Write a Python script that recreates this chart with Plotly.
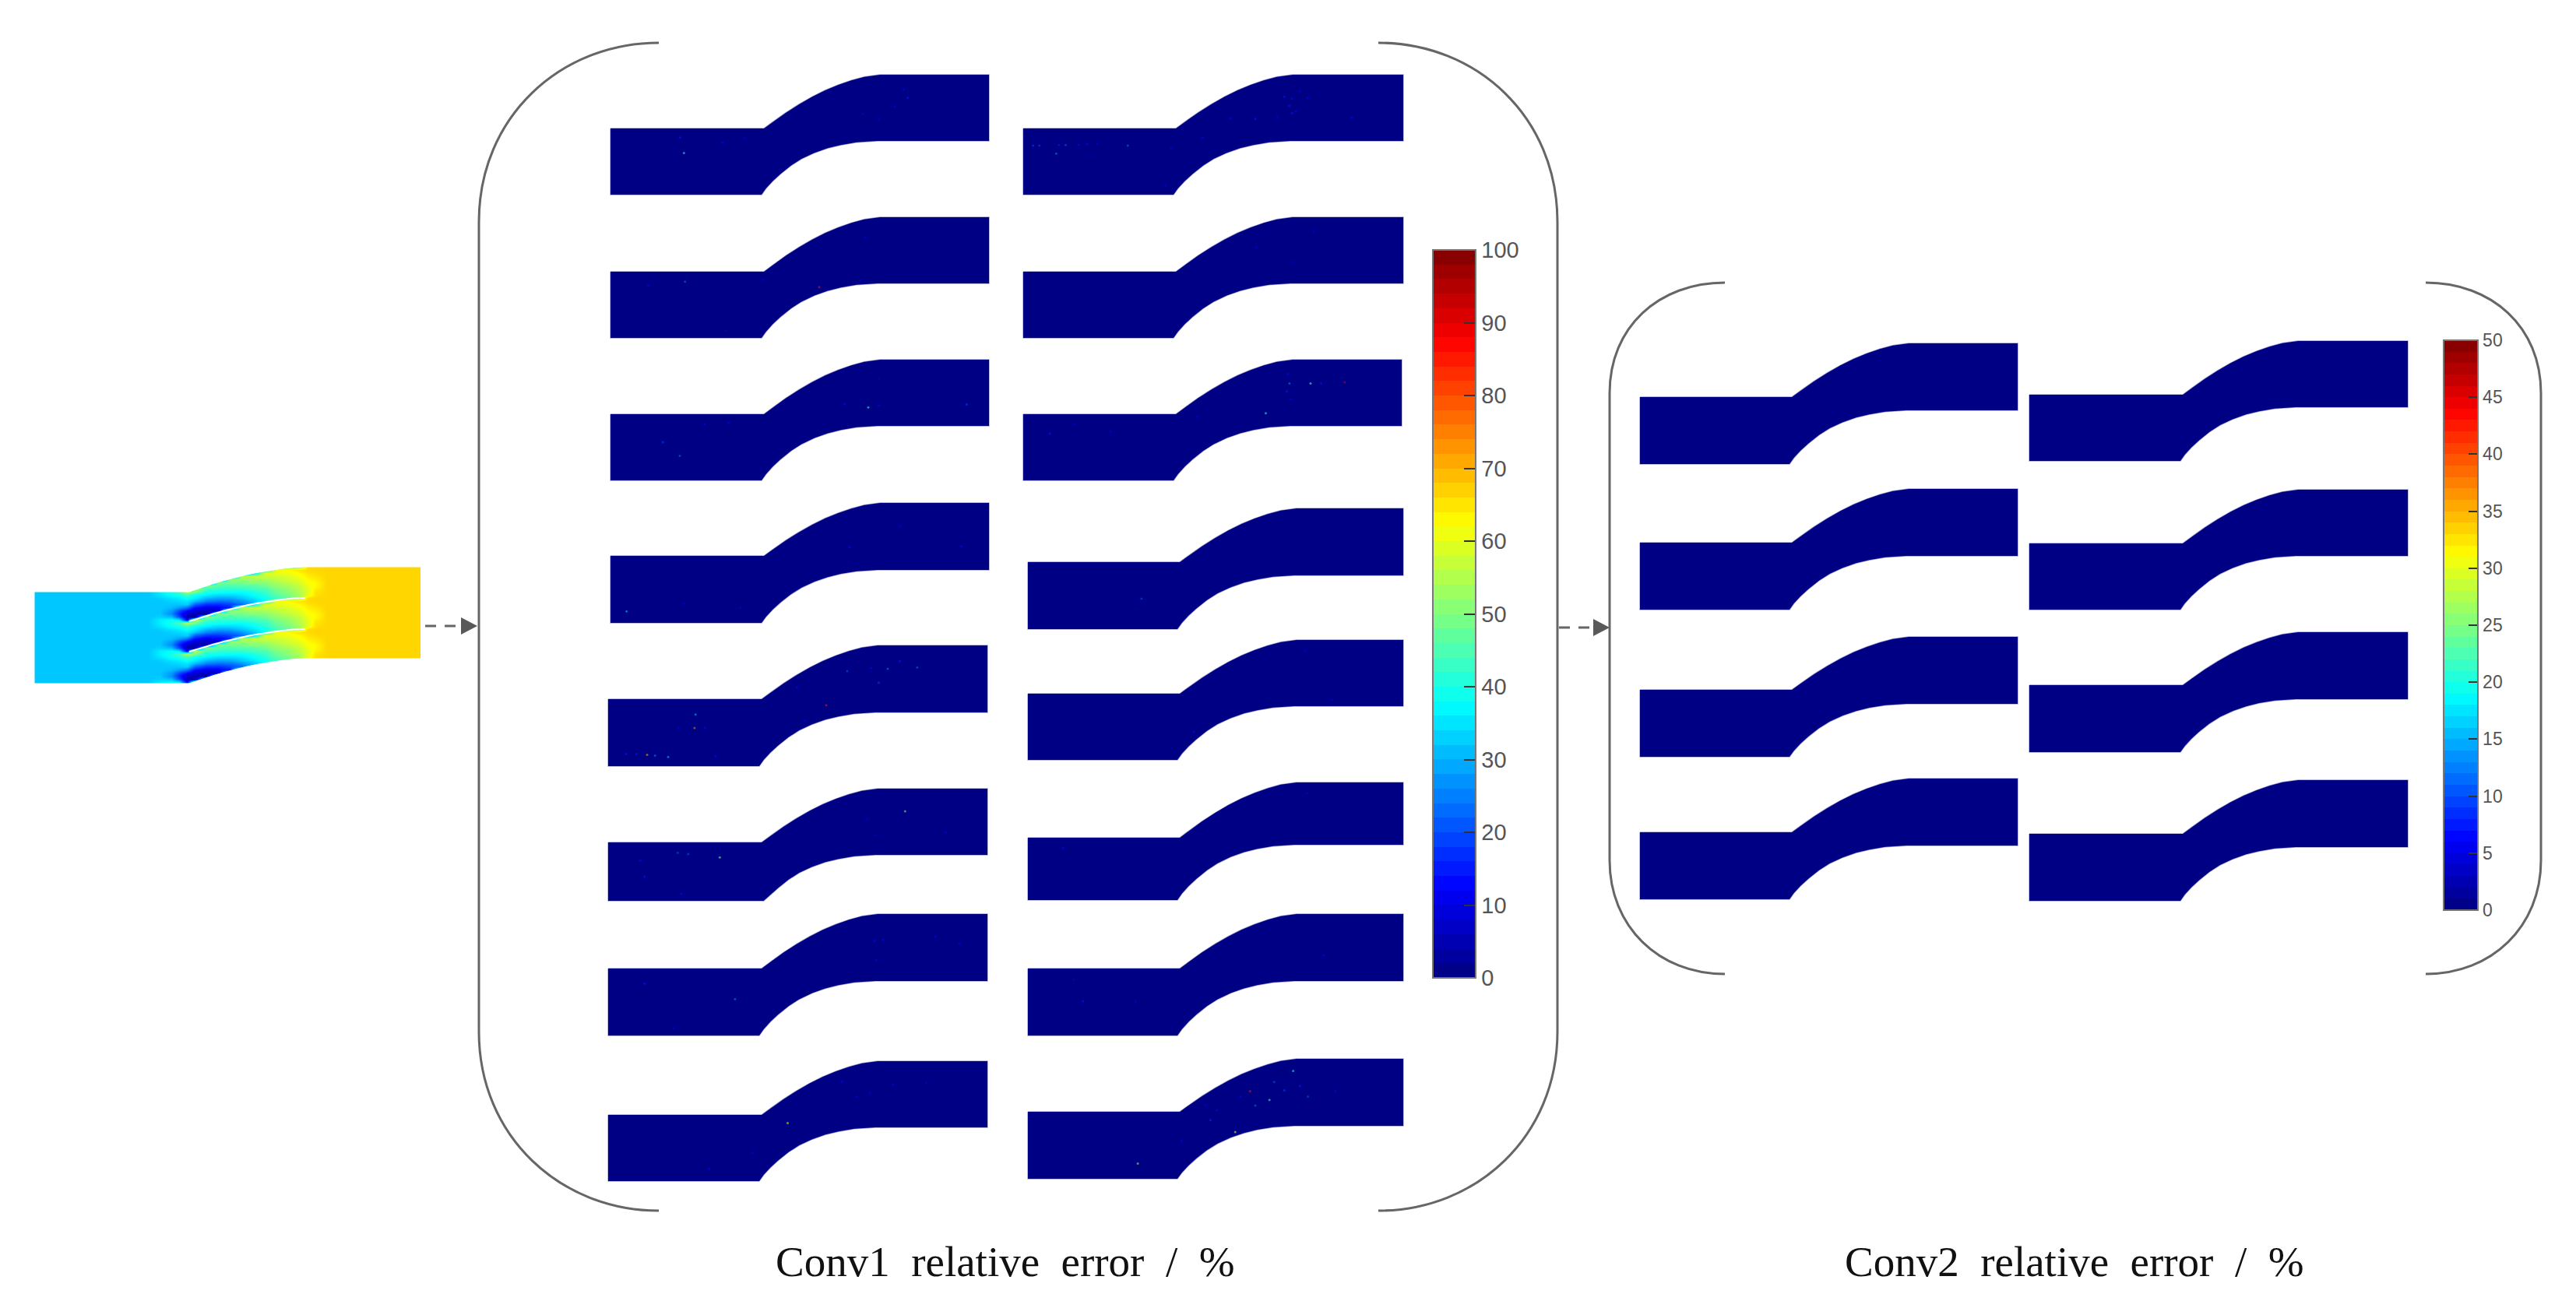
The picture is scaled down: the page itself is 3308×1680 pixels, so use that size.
import numpy as np
import plotly.graph_objects as go

# channel outline, fraction along the bend -> fraction of the rise
UPPER_T = [0, .079, .19, .303, .416, .528, .64, .753, .865, 1]
UPPER_F = [0, .125, .295, .45, .59, .71, .81, .895, .96, 1]
LOWER_T = [0, .038, .095, .163, .253, .344, .457, .57, .683, .819, 1]
LOWER_F = [0, .115, .25, .385, .54, .665, .78, .865, .925, .975, 1]

# Conv1 panels, left column then right column
C1_LEFT = [784, 784, 784, 784, 781, 781, 781, 781, 1314, 1314, 1314, 1320, 1320, 1320, 1320, 1320]
C1_JOIN = [981, 981, 981, 981, 978, 978, 978, 978, 1510, 1510, 1510, 1515, 1515, 1515, 1515, 1515]
C1_END = [1130, 1130, 1130, 1130, 1127, 1127, 1127, 1127, 1660, 1660, 1660, 1665, 1665, 1665, 1665, 1665]
C1_RIGHT = [1270, 1270, 1270, 1270, 1268, 1268, 1268, 1268, 1802, 1802, 1800, 1802, 1802, 1802, 1802, 1802]
C1_OUT_TOP = [96, 279, 462, 646, 829, 1013, 1174, 1363, 96, 279, 462, 653, 822, 1005, 1174, 1360]
C1_IN_TOP = [165, 349, 532, 714, 898, 1082, 1244, 1432, 165, 349, 532, 722, 891, 1076, 1244, 1428]
C1_IN_BOT = [250, 434, 617, 800, 984, 1157, 1330, 1517, 250, 434, 617, 808, 976, 1156, 1330, 1514]

# Conv2 panels
C2_LEFT = [2106, 2106, 2106, 2106, 2606, 2606, 2606, 2606]
C2_JOIN = [2301, 2301, 2301, 2301, 2803, 2803, 2803, 2803]
C2_END = [2451, 2451, 2451, 2451, 2951, 2951, 2951, 2951]
C2_RIGHT = [2591, 2591, 2591, 2591, 3092, 3092, 3092, 3092]
C2_OUT_TOP = [441, 628, 818, 1000, 438, 629, 812, 1002]
C2_IN_TOP = [510, 697, 886, 1069, 507, 698, 880, 1071]
C2_IN_BOT = [596, 783, 972, 1155, 592, 783, 966, 1157]

SPECKS_UPPER = [
    (175, 250, 40), (168, 208, 15), (248, 222, 12), (290, 210, 8), (600, 98, 15), (592, 75, 12), (575, 123, 10),
    (545, 158, 10), (515, 143, 8),
    (882, 252, 25), (838, 230, 18), (850, 230, 18), (887, 228, 15), (900, 228, 20), (925, 228, 12), (940, 226, 12),
    (960, 225, 10), (1018, 230, 22), (950, 258, 8), (1160, 208, 12), (1100, 238, 10), (1090, 340, 10),
    (1212, 155, 12), (1260, 156, 15), (1302, 150, 10), (1330, 140, 15), (1325, 120, 15), (1337, 135, 12),
    (1315, 95, 15), (1330, 100, 12), (1345, 80, 10), (1360, 98, 12), (1443, 153, 12),
    (107, 616, 12), (177, 605, 22), (255, 740, 10), (432, 620, 85), (325, 600, 8), (510, 602, 10), (520, 482, 8),
    (1372, 466, 8), (1262, 510, 8), (1330, 550, 8),
    (135, 1048, 18), (167, 1086, 22), (214, 998, 12), (260, 995, 12), (525, 952, 40), (545, 948, 12), (480, 942, 14),
    (712, 944, 18), (545, 873, 8),
    (870, 1024, 15), (917, 998, 10), (985, 1018, 10), (1280, 968, 40), (1325, 886, 25), (1365, 886, 48),
    (1385, 886, 15), (1430, 883, 90), (1322, 860, 12), (1320, 908, 15), (1328, 930, 10), (1150, 978, 8),
    (66, 1515, 30), (175, 1493, 8), (282, 1505, 8), (490, 1337, 12), (585, 1279, 10), (702, 1335, 12),
    (1044, 1480, 20),
]
# lower four rows
SPECKS_LOWER = [
    (195, 290, 75), (197, 253, 30), (105, 364, 70), (120, 366, 25), (145, 370, 30), (65, 362, 15), (85, 362, 15),
    (165, 290, 10), (215, 290, 12), (235, 368, 12), (445, 227, 85), (390, 178, 12), (405, 270, 10), (485, 133, 20),
    (545, 165, 18), (562, 127, 25), (585, 105, 15), (618, 123, 22), (530, 125, 12),
    (92, 656, 14), (100, 700, 15), (163, 634, 20), (183, 638, 20), (243, 647, 50), (170, 747, 14), (595, 520, 50),
    (523, 542, 10), (672, 578, 10), (540, 585, 8),
    (100, 995, 15), (272, 1038, 25), (155, 1118, 10), (537, 877, 14), (553, 875, 14), (652, 866, 14), (698, 884, 10),
    (540, 930, 8),
    (223, 1507, 12), (372, 1380, 60), (305, 1463, 8), (475, 1266, 12), (503, 1307, 14), (528, 1297, 10),
    (572, 1273, 10), (635, 1270, 8),
    (1143, 300, 12), (1405, 212, 8), (1355, 77, 8),
    (895, 622, 12), (1358, 470, 8),
    (933, 1044, 15), (1033, 1045, 10), (1390, 918, 12), (915, 985, 8),
    (1037, 1492, 50), (1222, 1405, 60), (1250, 1292, 85), (1187, 1345, 14), (1175, 1372, 16), (1165, 1330, 10),
    (1232, 1307, 12), (1260, 1332, 22), (1287, 1316, 45), (1296, 1267, 20), (1315, 1290, 18), (1345, 1278, 15),
    (1360, 1307, 20), (1332, 1236, 40), (1120, 1430, 10), (1412, 1292, 8),
]
CONV2_ERR = [0]

# upstream field, jet fraction. One blade pitch of rows, repeated over the cascade
FIELD_X = [40, 48, 190, 205, 220, 230, 240, 250, 265, 280, 295, 310, 325, 340, 355, 370, 385, 395, 405, 420, 532, 544]
FIELD_PITCH = [
    [.32, .36, .40, .44, .55, .49, .40, .39, .38, .38, .40, .43, .48, .51, .55, .60, .65, .665],
    [.32, .35, .38, .40, .44, .39, .36, .34, .34, .35, .38, .41, .46, .49, .54, .60, .655, .665],
    [.32, .33, .35, .36, .39, .36, .31, .29, .29, .32, .35, .39, .44, .48, .54, .66, .665, .665],
    [.32, .32, .33, .34, .35, .31, .25, .23, .24, .27, .32, .37, .61, .63, .65, .66, .665, .665],
    [.32, .32, .32, .32, .33, .22, .17, .17, .19, .23, .30, .59, .60, .61, .63, .65, .66, .665],
    [.32, .32, .31, .28, .24, .14, .11, .12, .15, .54, .57, .57, .58, .59, .62, .64, .65, .665],
    [.32, .32, .28, .20, .13, .09, .06, .07, .51, .52, .53, .54, .56, .58, .60, .63, .64, .665],
    [.32, .32, .26, .16, .07, .05, .03, .49, .49, .49, .51, .51, .54, .56, .59, .62, .63, .665],
    [.32, .33, .31, .20, .05, .03, .50, .46, .45, .46, .46, .49, .52, .54, .57, .61, .63, .665],
    [.32, .36, .38, .36, .12, .55, .44, .42, .42, .42, .44, .45, .50, .52, .56, .60, .64, .665],
]
BLADE_T = [0, .1, .2, .3, .4, .5, .6, .7, .8, .9, 1]
BLADE_F = [0, .16, .31, .45, .58, .69, .78, .86, .93, .98, 1]

TICKS_C1 = [0, 10, 20, 30, 40, 50, 60, 70, 80, 90, 100]
TICKS_C2 = [0, 5, 10, 15, 20, 25, 30, 35, 40, 45, 50]
TITLE_C1 = 'Conv1\u00a0 relative\u00a0 error\u00a0 /\u00a0 %'
TITLE_C2 = 'Conv2\u00a0 relative\u00a0 error\u00a0 /\u00a0 %'

W, H = 3308, 1680
NAVY = '#000085'
GREY = '#666666'
JET = [[0, '#000080'], [.125, '#0000ff'], [.375, '#00ffff'], [.625, '#ffff00'], [.875, '#ff0000'], [1, '#800000']]


def jet_steps(n=50):
    steps = []
    for i in range(n):
        v = (i + .5) / n
        r = np.clip(min(4 * v - 1.5, -4 * v + 4.5), 0, 1)
        g = np.clip(min(4 * v - .5, -4 * v + 3.5), 0, 1)
        b = np.clip(min(4 * v + .5, -4 * v + 2.5), 0, 1)
        c = f'rgb({int(r * 255)},{int(g * 255)},{int(b * 255)})'
        steps += [[i / n, c], [(i + 1) / n, c]]
    return steps


def channel(left, join, end, right, out_top, in_top, in_bot):
    rise = in_top - out_top
    height = in_bot - in_top
    if height < 80:  # the two cropped panels keep the full channel above the cut
        height = 85
    ux = join + (end - join) * np.array(UPPER_T)
    uy = in_top - rise * np.array(UPPER_F)
    lx = join - 3 + (end - join) * np.array(LOWER_T)
    ly = np.minimum(in_top + height - rise * np.array(LOWER_F), in_bot)
    xs = [left] + list(ux) + [right, right] + list(lx[::-1]) + [left, left]
    ys = [in_top] + list(uy) + [out_top, out_top + height] + list(ly[::-1]) + [in_bot, in_top]
    return go.Scatter(x=xs, y=ys, mode='lines', fill='toself', fillcolor=NAVY,
                      line=dict(color='rgba(0,0,133,0.35)', width=1.5),
                      hoverinfo='skip', showlegend=False)


fig = go.Figure()

# upstream field
rows = FIELD_PITCH * 4 + FIELD_PITCH[:1]
z = [[r[0], r[0]] + r + [r[-1], r[-1]] for r in rows]
fig.add_trace(go.Heatmap(x=FIELD_X, y=[720 + 4 * k for k in range(len(rows))], z=z,
                         zmin=0, zmax=1, zsmooth='best', colorscale=JET, showscale=False, hoverinfo='skip'))

blade_x = 243 + 149 * np.array(BLADE_T)
blade_f = np.array(BLADE_F)
wall_top = 760 - 32 * blade_f
wall_bot = 878 - 32 * blade_f
# white around the field so that only the cascade shows (pieces must not overlap, fill is even-odd)
mask_x = [30, 30] + list(blade_x) + [552, 552, None, 30, 30] + list(blade_x) + [552, 552, None,
          30, 44, 44, 30, None, 540, 552, 552, 540]
mask_y = [715, 760] + list(wall_top) + [728, 715, None, 885, 878] + list(wall_bot) + [846, 885, None,
          760, 760, 878, 878, None, 728, 728, 846, 846]
fig.add_trace(go.Scatter(x=mask_x, y=mask_y, mode='lines', fill='toself', fillcolor='white',
                         line=dict(color='white', width=1), hoverinfo='skip', showlegend=False))
for le, rise in [(798, 30), (837, 29)]:
    fig.add_trace(go.Scatter(x=blade_x, y=le - rise * blade_f, mode='lines', line=dict(color='white', width=2),
                             hoverinfo='skip', showlegend=False))

# error panels
for i in range(len(C1_LEFT)):
    fig.add_trace(channel(C1_LEFT[i], C1_JOIN[i], C1_END[i], C1_RIGHT[i], C1_OUT_TOP[i], C1_IN_TOP[i], C1_IN_BOT[i]))
for i in range(len(C2_LEFT)):
    fig.add_trace(channel(C2_LEFT[i], C2_JOIN[i], C2_END[i], C2_RIGHT[i], C2_OUT_TOP[i], C2_IN_TOP[i], C2_IN_BOT[i]))

# crops were 1060x730 scaled to 1568 tall
up = np.array(SPECKS_UPPER)
lo = np.array(SPECKS_LOWER)
speck_x = np.concatenate([760 + up[:, 0] / 1.479, 760 + lo[:, 0] / 1.479])
speck_y = np.concatenate([80 + up[:, 1] / 2.148, 800 + lo[:, 1] / 2.148])
speck_err = np.concatenate([up[:, 2], lo[:, 2]])
fig.add_trace(go.Scatter(x=speck_x, y=speck_y, mode='markers', hoverinfo='skip', showlegend=False,
                         marker=dict(size=3, opacity=.55, color=speck_err, coloraxis='coloraxis', line=dict(width=0))))
fig.add_trace(go.Scatter(x=[C2_JOIN[0]], y=[C2_IN_TOP[0] + 40], mode='markers', hoverinfo='skip', showlegend=False,
                         marker=dict(size=3, color=CONV2_ERR, coloraxis='coloraxis2', line=dict(width=0))))


def colorbar(x0, y_top, y_bot, thick, ticks, size, prefix):
    return dict(
        x=x0 / W, xanchor='left', xpad=0,
        y=1 - y_bot / H, yanchor='bottom', ypad=0,
        len=y_bot - y_top, lenmode='pixels',
        thickness=thick, thicknessmode='pixels',
        tickvals=ticks, ticks='inside', ticklen=size * .55, tickwidth=1.5, tickcolor='#333333',
        tickprefix=prefix, tickfont=dict(family='Liberation Sans', size=size, color='#555555'),
        outlinecolor='#777777', outlinewidth=2, bgcolor='rgba(0,0,0,0)',
    )


# brackets and arrows
shapes = []
for path in ['M 846 55 C 720 55 615 150 615 285 L 615 1325 C 615 1460 720 1555 846 1555',
             'M 1770 55 C 1896 55 2000 150 2000 285 L 2000 1325 C 2000 1460 1896 1555 1770 1555',
             'M 2215 363 C 2130 363 2067 420 2067 505 L 2067 1105 C 2067 1190 2130 1251 2215 1251',
             'M 3115 363 C 3200 363 3263 420 3263 505 L 3263 1105 C 3263 1190 3200 1251 3115 1251']:
    shapes.append(dict(type='path', path=path, line=dict(color=GREY, width=3)))
for x0, x1, y in [(546, 592, 804), (2002, 2046, 806)]:
    shapes.append(dict(type='line', x0=x0, x1=x1, y0=y, y1=y, line=dict(color=GREY, width=3, dash='14px,11px')))
    shapes.append(dict(type='path', path=f'M {x1} {y - 11} L {x1 + 21} {y} L {x1} {y + 11} Z',
                       fillcolor='#595959', line=dict(width=0)))

# plotly trims leading spaces off tick text, the zero-width char keeps the gap
fig.update_layout(
    width=W, height=H,
    margin=dict(l=0, r=0, t=0, b=0),
    paper_bgcolor='white', plot_bgcolor='white',
    xaxis=dict(range=[0, W], visible=False, fixedrange=True),
    yaxis=dict(range=[H, 0], visible=False, fixedrange=True),
    coloraxis=dict(cmin=0, cmax=100, colorscale=jet_steps(),
                   colorbar=colorbar(1840, 321, 1256, 55, TICKS_C1, 29, '\u200b\u00a0\u2009')),
    coloraxis2=dict(cmin=0, cmax=50, colorscale=jet_steps(),
                    colorbar=colorbar(3138, 437, 1169, 44, TICKS_C2, 23, '\u200b\u00a0')),
    shapes=shapes,
    annotations=[
        dict(x=1291, y=1620, text=TITLE_C1, showarrow=False,
             font=dict(family='Liberation Serif', size=55, color='#111111')),
        dict(x=2664, y=1620, text=TITLE_C2, showarrow=False,
             font=dict(family='Liberation Serif', size=55, color='#111111')),
    ],
)

# the default page has an 8px body margin that would shift the whole figure
fig.write_html("out.html", config={'displayModeBar': False}, post_script="document.body.style.margin='0';")
